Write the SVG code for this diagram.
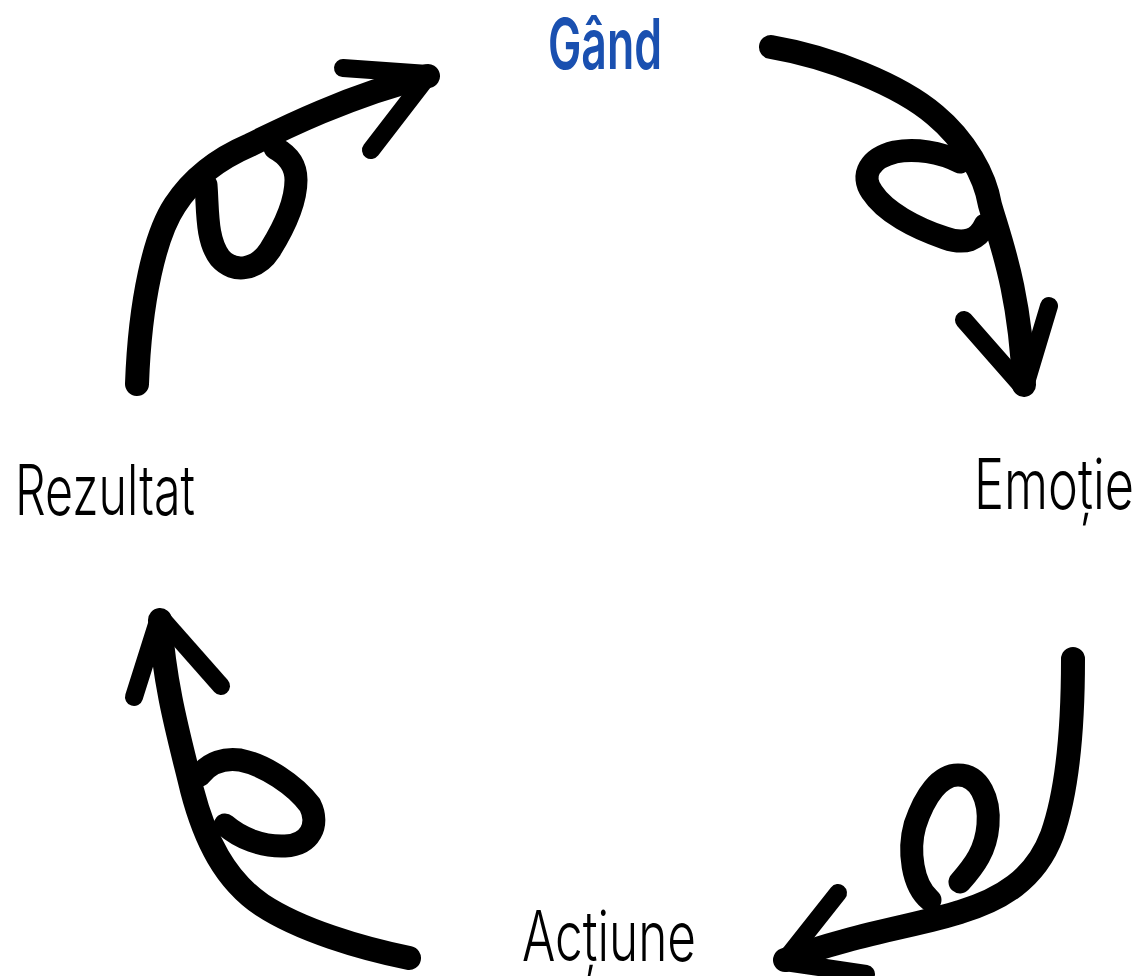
<svg xmlns="http://www.w3.org/2000/svg" width="1142" height="976" viewBox="0 0 1142 976">
<style>
.ln{fill:none;stroke:#000;stroke-linecap:round;stroke-linejoin:round}
.main{stroke-width:24}
.loop{stroke-width:23}
.arm{stroke-width:18}
.lbl{font-family:Inter,"Liberation Sans",Arial,sans-serif;font-size:70px;font-weight:300;fill:#000}
.top{fill:#1a50b0;font-weight:600}
</style>
<g id="nodes">
<g id="gand"><text class="lbl top" x="548" y="69" textLength="114" lengthAdjust="spacingAndGlyphs">Gând</text></g>
<g id="emotie"><text class="lbl" x="1134" y="509" text-anchor="end" textLength="160" lengthAdjust="spacingAndGlyphs">Emoție</text></g>
<g id="actiune"><text class="lbl" x="522" y="961" textLength="174" lengthAdjust="spacingAndGlyphs">Acțiune</text></g>
<g id="rezultat"><text class="lbl" x="15" y="515" textLength="180" lengthAdjust="spacingAndGlyphs">Rezultat</text></g>
</g>
<g id="connectors">
<g id="arrow-rezultat-gand">
<path class="ln main" d="M137,384 C140,300 155,235 175,205 C190,182 215,160 250,145 C280,130 350,95 428,76"/>
<path class="ln loop" d="M206,185 C208,210 206,240 220,258 C234,274 257,270 270,250 C285,226 296,200 296,180 C296,165 288,155 275,148"/>
<path class="ln arm" d="M428,74 L343,68"/>
<path class="ln arm" d="M428,76 L371,150"/>
</g>
<g id="arrow-gand-emotie">
<path class="ln main" d="M771,47 C830,57 900,85 935,115 C965,140 985,175 990,205 C1000,240 1020,290 1024,385"/>
<path class="ln loop" d="M960,162 C940,152 915,148 895,152 C870,158 860,175 872,192 C885,212 915,228 945,238 C965,245 978,240 985,225"/>
<path class="ln arm" d="M1022,386 L964,320"/>
<path class="ln arm" d="M1025,386 L1049,306"/>
</g>
<g id="arrow-emotie-actiune">
<path class="ln main" d="M1073,659 C1073,720 1068,790 1052,835 C1035,880 1000,900 960,912 C920,925 850,935 785,960"/>
<path class="ln loop" d="M930,900 C912,885 908,850 915,825 C925,795 940,775 958,775 C980,775 990,800 988,825 C986,850 975,865 960,882"/>
<path class="ln arm" d="M785,960 L838,893"/>
<path class="ln arm" d="M785,962 L866,974"/>
</g>
<g id="arrow-actiune-rezultat">
<path class="ln main" d="M409,958 C360,948 300,930 262,905 C225,880 205,840 192,790 C180,740 165,690 160,620"/>
<path class="ln loop" d="M200,775 C210,762 225,758 240,760 C265,765 295,785 310,805 C320,825 310,845 285,846 C262,847 240,838 225,825"/>
<path class="ln arm" d="M159,618 L134,697"/>
<path class="ln arm" d="M161,618 L221,686"/>
</g>
</g>
</svg>
